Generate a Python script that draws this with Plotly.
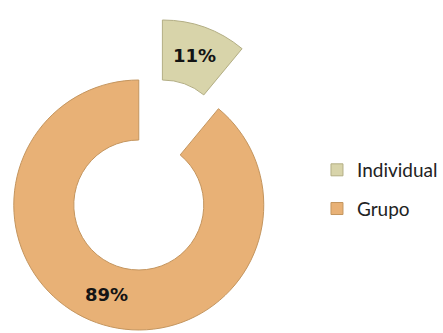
import plotly.graph_objects as go

# Share of work mode
categories = ["Individual", "Grupo"]
values = [11, 89]
colors = ["#d8d4aa", "#e8b176"]
edge_colors = ["#b3ae84", "#c4955e"]

W, H = 443, 333


def px_domain(cx, cy, r):
    """Square pie domain (paper coords) centred at pixel (cx, cy) with radius r."""
    return dict(
        x=[(cx - r) / W, (cx + r) / W],
        y=[1 - (cy + r) / H, 1 - (cy - r) / H],
    )


R = 127
HOLE = 0.52
label_font = dict(family="DejaVu Sans", size=18, color="#141414", weight="bold")

fig = go.Figure()

# Main ring: "Grupo" slice, the exploded slice is left empty here
fig.add_trace(go.Pie(
    labels=categories,
    values=values,
    sort=False,
    direction="clockwise",
    rotation=0,
    hole=HOLE,
    domain=px_domain(141, 205, R),
    marker=dict(colors=["rgba(0,0,0,0)", colors[1]],
                line=dict(color=["rgba(0,0,0,0)", edge_colors[1]], width=1)),
    texttemplate=["", "%{percent:.0%}"],
    textposition="inside",
    insidetextorientation="horizontal",
    textfont=label_font,
    showlegend=False,
    hoverinfo="label+percent",
))

# Exploded "Individual" slice, offset outward along its bisector
fig.add_trace(go.Pie(
    labels=categories,
    values=values,
    sort=False,
    direction="clockwise",
    rotation=0,
    hole=HOLE,
    domain=px_domain(165, 145, R),
    marker=dict(colors=[colors[0], "rgba(0,0,0,0)"],
                line=dict(color=[edge_colors[0], "rgba(0,0,0,0)"], width=1)),
    texttemplate=["%{percent:.0%}", ""],
    textposition="inside",
    insidetextorientation="horizontal",
    textfont=label_font,
    showlegend=False,
    hoverinfo="label+percent",
))

# Legend entries
for name, col, edge in zip(categories, colors, edge_colors):
    fig.add_trace(go.Scatter(
        x=[None], y=[None], mode="markers", name=name, legendgroup=name,
        marker=dict(symbol="square", size=12, color=col, line=dict(color=edge, width=1)),
    ))

fig.update_layout(
    width=W, height=H,
    margin=dict(l=0, r=0, t=0, b=0),
    paper_bgcolor="white",
    plot_bgcolor="white",
    xaxis=dict(visible=False),
    yaxis=dict(visible=False),
    legend=dict(
        x=0.727, y=0.431, xanchor="left", yanchor="middle",
        font=dict(family="Lato", size=19, color="#222222"),
        tracegroupgap=11,
        itemwidth=30,
    ),
)

fig.write_html("out.html")
